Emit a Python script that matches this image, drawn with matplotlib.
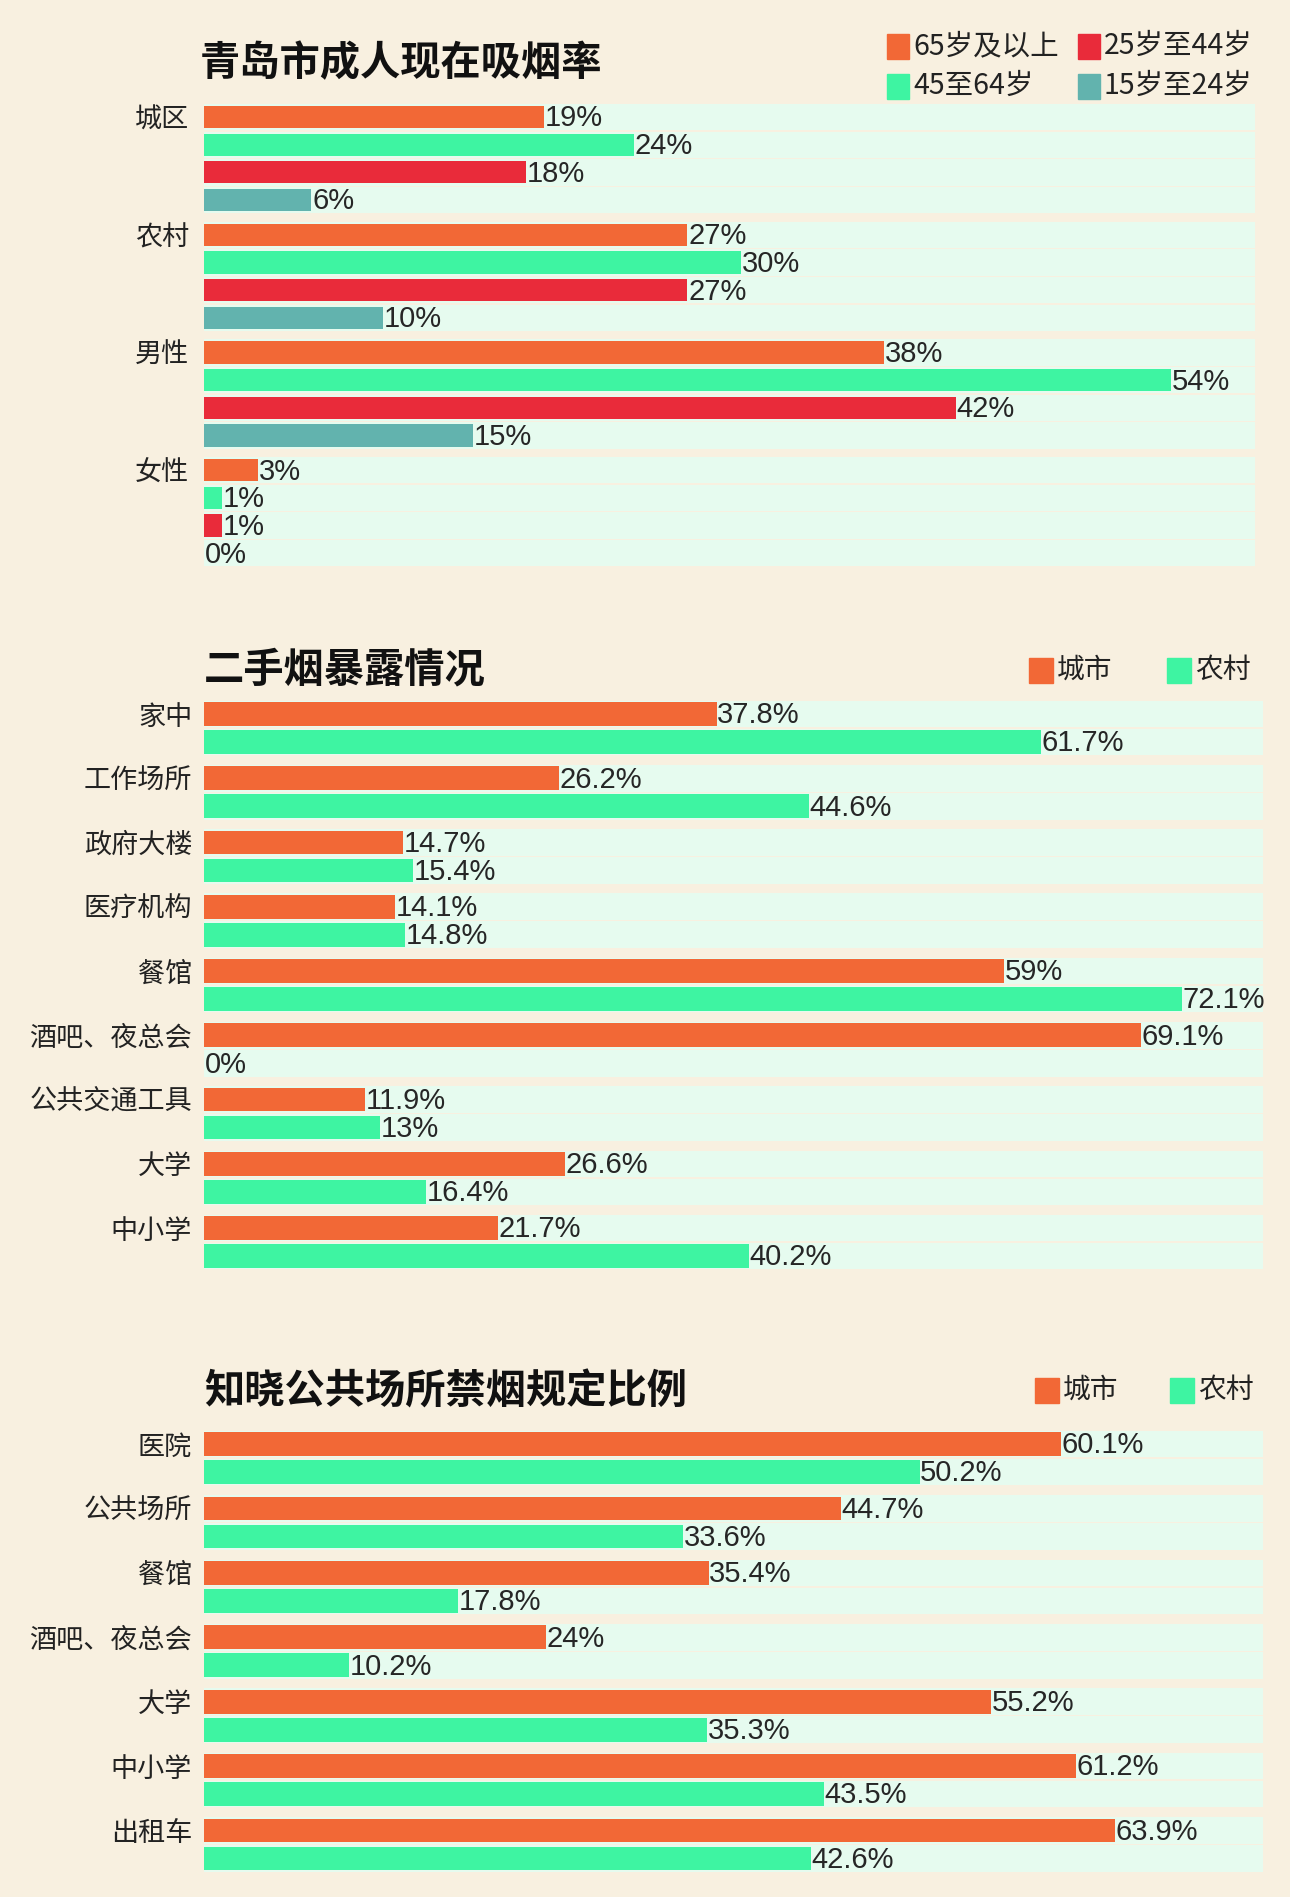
import matplotlib
matplotlib.use("Agg")
import matplotlib.pyplot as plt
from matplotlib.patches import Rectangle

W, H = 1290, 1897
BG = "#f8f0e0"
TRACK = "#e6fbef"
ORANGE = "#f26836"
GREEN = "#3ef4a2"
RED = "#e92b3a"
TEAL = "#62b3ae"
NUM_FONT = ["Liberation Sans", "DejaVu Sans"]

plt.rcParams["font.family"] = ["Noto Sans CJK SC", "DejaVu Sans"]

# panel 1: current smoking rate
smoke_groups = ["城区", "农村", "男性", "女性"]
smoke_age_labels = ["65岁及以上", "25岁至44岁", "45至64岁", "15岁至24岁"]
smoke_65_plus = [19, 27, 38, 3]
smoke_45_64 = [24, 30, 54, 1]
smoke_25_44 = [18, 27, 42, 1]
smoke_15_24 = [6, 10, 15, 0]

# panel 2: second-hand smoke exposure
exposure_places = ["家中", "工作场所", "政府大楼", "医疗机构", "餐馆",
                   "酒吧、夜总会", "公共交通工具", "大学", "中小学"]
exposure_city = [37.8, 26.2, 14.7, 14.1, 59, 69.1, 11.9, 26.6, 21.7]
exposure_rural = [61.7, 44.6, 15.4, 14.8, 72.1, 0, 13, 16.4, 40.2]

# panel 3: awareness of smoke-free rules
aware_places = ["医院", "公共场所", "餐馆", "酒吧、夜总会", "大学", "中小学", "出租车"]
aware_city = [60.1, 44.7, 35.4, 24, 55.2, 61.2, 63.9]
aware_rural = [50.2, 33.6, 17.8, 10.2, 35.3, 43.5, 42.6]

area_labels = ["城市", "农村"]

fig = plt.figure(figsize=(W / 100, H / 100), dpi=100, facecolor=BG)


def fx(x):
    return x / W


def fy(y):
    return 1 - y / H


def bar_panel(first_center, pitch, gap, xmax, right_px, groups, series, colors,
              bar_h, track_h, pad):
    left_px = 204
    n = len(series)
    unit = n + gap
    last = (len(groups) - 1) * unit + n - 1
    top_px = first_center - 0.5 * pitch
    height_px = (last + 1) * pitch
    ax = fig.add_axes([fx(left_px), fy(top_px + height_px),
                       (right_px - left_px) / W, height_px / H])
    for k, vals in enumerate(series):
        pos = [g * unit + k for g in range(len(groups))]
        ax.barh(pos, [xmax] * len(groups), height=track_h, color=TRACK, zorder=1)
        ax.barh(pos, vals, height=bar_h, color=colors[k], zorder=2)
        for y, v in zip(pos, vals):
            ax.annotate(f"{v:g}%", (v, y), xytext=(0.5, -1), textcoords="offset points",
                        va="center", ha="left", fontsize=21, family=NUM_FONT,
                        color="#262626", zorder=3)
    ax.set_xlim(0, xmax)
    ax.set_ylim(last + 0.5, -0.5)
    ax.set_yticks([g * unit for g in range(len(groups))], groups)
    ax.tick_params(left=False, bottom=False, labelbottom=False, labelsize=19.5,
                   pad=pad, labelcolor="#222222")
    for s in ax.spines.values():
        s.set_visible(False)
    ax.set_facecolor("none")
    return ax


def legend_item(x, y, w, h, color, label, size):
    fig.add_artist(Rectangle((fx(x), fy(y + h / 2)), w / W, h / H,
                             transform=fig.transFigure, color=color))
    fig.text(fx(x + w + 4), fy(y), label, fontsize=size, va="center", ha="left",
             color="#222222")


# panel 1
bar_panel(117, 27.7, 0.25, 58.7, 1255, smoke_groups,
          [smoke_65_plus, smoke_45_64, smoke_25_44, smoke_15_24],
          [ORANGE, GREEN, RED, TEAL], 0.8, 0.95, 7)
fig.text(fx(200), fy(64), "青岛市成人现在吸烟率", fontsize=29, fontweight="black",
         va="center", ha="left", color="#111111")
legend_item(887, 46, 22, 25, ORANGE, smoke_age_labels[0], 20.5)
legend_item(1078, 46, 22, 25, RED, smoke_age_labels[1], 20.5)
legend_item(887, 86, 22, 25, GREEN, smoke_age_labels[2], 20.5)
legend_item(1078, 86, 22, 25, TEAL, smoke_age_labels[3], 20.5)

# panel 2
bar_panel(714, 28, 0.295, 78.1, 1263, exposure_places,
          [exposure_city, exposure_rural], [ORANGE, GREEN], 0.85, 0.95, 5)
fig.text(fx(204), fy(670), "二手烟暴露情况", fontsize=29, fontweight="black",
         va="center", ha="left", color="#111111")
legend_item(1029, 670, 24, 25, ORANGE, area_labels[0], 20)
legend_item(1167, 670, 24, 25, GREEN, area_labels[1], 20)

# panel 3
bar_panel(1444, 28, 0.3, 74.3, 1263, aware_places,
          [aware_city, aware_rural], [ORANGE, GREEN], 0.85, 0.95, 5)
fig.text(fx(204), fy(1392), "知晓公共场所禁烟规定比例", fontsize=29, fontweight="black",
         va="center", ha="left", color="#111111")
legend_item(1035, 1390, 24, 25, ORANGE, area_labels[0], 20)
legend_item(1170, 1390, 24, 25, GREEN, area_labels[1], 20)

fig.savefig("out.png", dpi=100, facecolor=BG)
